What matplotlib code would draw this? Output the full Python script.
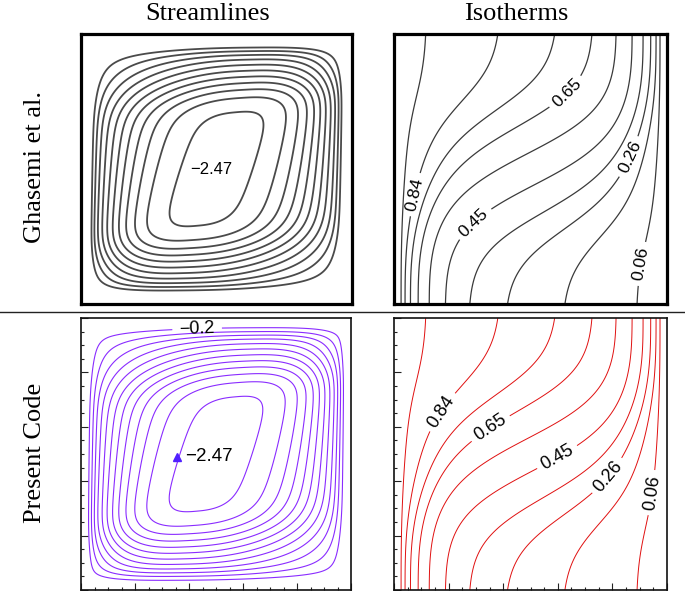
import numpy as np
import matplotlib
matplotlib.use("Agg")
import matplotlib.pyplot as plt
from matplotlib.lines import Line2D

# ---------------- data ----------------
col_titles = ["Streamlines", "Isotherms"]
row_titles = ["Ghasemi et al.", "Present Code"]
psi_min = -2.47
stream_levels_present = [-2.4, -2.2, -2.0, -1.8, -1.6, -1.4, -1.2, -1.0, -0.8, -0.6, -0.4, -0.2]
stream_levels_ghasemi = [-2.4, -2.2, -2.0, -1.8, -1.6, -1.4, -1.2, -1.0, -0.8, -0.6, -0.4]
iso_levels = [0.06, 0.1575, 0.255, 0.3525, 0.45, 0.5475, 0.645, 0.7425, 0.84, 0.9375]
iso_label_levels = [0.84, 0.645, 0.45, 0.255, 0.06]
iso_label_text = ["0.84", "0.65", "0.45", "0.26", "0.06"]
psi_label_level = -0.2
psi_label_text = "\u22120.2"
psi_min_text = "\u22122.47"

# ---------------- model fields (streamfunction / temperature) ----------------
n = 261
xs = np.linspace(0.0, 1.0, n)
X, Y = np.meshgrid(xs, xs)


def wall_factor(u, eps):
    return 1 - np.exp(-((1 - u) / eps) ** 2)


def profile_x(s, m=2.7, eps=0.07):
    u = np.abs(2 * s - 1)
    return (1 - u ** m) * wall_factor(u, eps)


def profile_y(s, u0=0.48, w=0.06, k=1.8, eps=0.1):
    u = np.abs(2 * s - 1)
    h = w * np.log1p(np.exp((u - u0) / w))
    return (1 - k * h) * wall_factor(u, eps)


sx, sy = 0.36, 0.12
Xp = X - sx * (Y - 0.5) * (4 * X * (1 - X)) ** 1.6
Yp = Y - sy * (X - 0.5) * (4 * Y * (1 - Y)) ** 1.6
F = profile_x(Xp) * profile_y(Yp)
psi = psi_min * F / F.max()


def g_wall(c):
    return c ** 0.1 * np.exp(3.6 * (c - 1) + 2.9 * c ** 8 * (1 - c))


def sig(z):
    return 1.0 / (1.0 + np.exp(-z))


def step(y, y0, w, lam):
    s0 = sig((0 - y0) / w)
    s1 = sig((1 - y0) / w)
    sn = (sig((y - y0) / w) - s0) / (s1 - s0)
    lin = y - np.sin(2 * np.pi * y) / (2 * np.pi)
    return lam * lin + (1 - lam) * sn


cc = np.linspace(0.0, 1.0, 801)
top = 1 - g_wall(cc)
bot = g_wall(1 - cc)
yc = 0.5 + 0.29 * np.tanh(4.5 * (cc - 0.5))
Xc = bot[:, None] + (top - bot)[:, None] * step(xs[None, :], yc[:, None], 0.08, 0.3)
T = np.empty((n, n))
for j in range(n):
    xc = np.maximum.accumulate(Xc[::-1, j])
    T[j, :] = np.interp(xs, xc, cc[::-1])

# ---------------- figure ----------------
W, H = 685, 591
fig = plt.figure(figsize=(W / 100, H / 100), dpi=100)
sans = ["Liberation Sans", "DejaVu Sans"]
serif = ["Liberation Serif", "DejaVu Serif"]


def px_axes(x0, y0, x1, y1):
    return fig.add_axes([x0 / W, 1 - y1 / H, (x1 - x0) / W, (y1 - y0) / H])


def labeled_contours(ax, field, levels, lab_levels, lab_texts, positions, color, lw, fs):
    plain = [lv for lv in levels if lv not in lab_levels]
    if plain:
        ax.contour(xs, xs, field, levels=plain, colors=color, linewidths=lw,
                   linestyles="solid")
    for lev, txt, pos in zip(lab_levels, lab_texts, positions):
        cs = ax.contour(xs, xs, field, levels=[lev], colors=color, linewidths=lw,
                        linestyles="solid")
        labs = ax.clabel(cs, manual=[pos], fmt={lev: txt}, fontsize=fs,
                         inline=True, inline_spacing=3, colors="black")
        for t in labs:
            t.set_family(sans)


ax_tl = px_axes(81, 34, 352, 304)
ax_tr = px_axes(394, 34, 667, 304)
ax_bl = px_axes(81, 318, 351, 590)
ax_br = px_axes(394, 318, 667, 590)

for ax in (ax_tl, ax_tr):
    ax.set_xlim(0, 1)
    ax.set_ylim(0, 1)
    ax.set_xticks([])
    ax.set_yticks([])
    for sp in ax.spines.values():
        sp.set_linewidth(2.3)
        sp.set_color("black")

for ax in (ax_bl, ax_br):
    ax.set_xlim(0, 1)
    ax.set_ylim(0, 1)
    ax.set_xticks(np.arange(0, 1.01, 0.2))
    ax.set_yticks(np.arange(0, 1.01, 0.2))
    ax.set_xticks(np.arange(0, 1.01, 0.05), minor=True)
    ax.set_yticks(np.arange(0, 1.01, 0.05), minor=True)
    ax.tick_params(which="both", direction="in", top=False, right=False,
                   labelbottom=False, labelleft=False, width=0.8, color="#222")
    ax.tick_params(which="major", length=5)
    ax.tick_params(which="minor", length=2.5)
    for sp in ax.spines.values():
        sp.set_linewidth(1.2)
        sp.set_color("#111")

# top-left: Ghasemi streamlines
ax_tl.contour(xs, xs, psi, levels=stream_levels_ghasemi, colors="#4a4a4a", linewidths=1.3,
              linestyles="solid")
ax_tl.text(0.48, 0.50, psi_min_text, ha="center", va="center", fontsize=12, family=sans)

# top-right: Ghasemi isotherms
tr_pos = [(0.10, 0.40), (0.615, 0.80), (0.33, 0.26), (0.83, 0.56), (0.87, 0.155)]
labeled_contours(ax_tr, T, iso_levels, iso_label_levels, iso_label_text, tr_pos,
                 "#3a3a3a", 0.9, 12.5)

# bottom-left: present streamlines
labeled_contours(ax_bl, psi, stream_levels_present, [psi_label_level], [psi_label_text],
                 [(0.43, 0.962)], "#8a2cff", 0.8, 13)
ax_bl.plot([0.355], [0.49], marker="^", color="#5020ff", markersize=6, linestyle="none")
ax_bl.text(0.385, 0.49, psi_min_text, ha="left", va="center", fontsize=13.5, family=sans)

# bottom-right: present isotherms
br_pos = [(0.157, 0.667), (0.35, 0.60), (0.58, 0.52), (0.77, 0.43), (0.93, 0.36)]
labeled_contours(ax_br, T, iso_levels, iso_label_levels, iso_label_text, br_pos,
                 "#e01010", 0.7, 13)

# titles and row labels
fig.text(208 / W, 1 - 14 / H, col_titles[0], ha="center", va="center", fontsize=19, family=serif)
fig.text(516 / W, 1 - 14 / H, col_titles[1], ha="center", va="center", fontsize=19, family=serif)
fig.text(35 / W, 1 - 167 / H, row_titles[0], ha="center", va="center", rotation=90, fontsize=19, family=serif)
fig.text(35 / W, 1 - 453 / H, row_titles[1], ha="center", va="center", rotation=90, fontsize=19, family=serif)

fig.add_artist(Line2D([0, 1], [1 - 312 / H, 1 - 312 / H], color="#222", lw=1.0))

fig.savefig("out.png", dpi=100)
